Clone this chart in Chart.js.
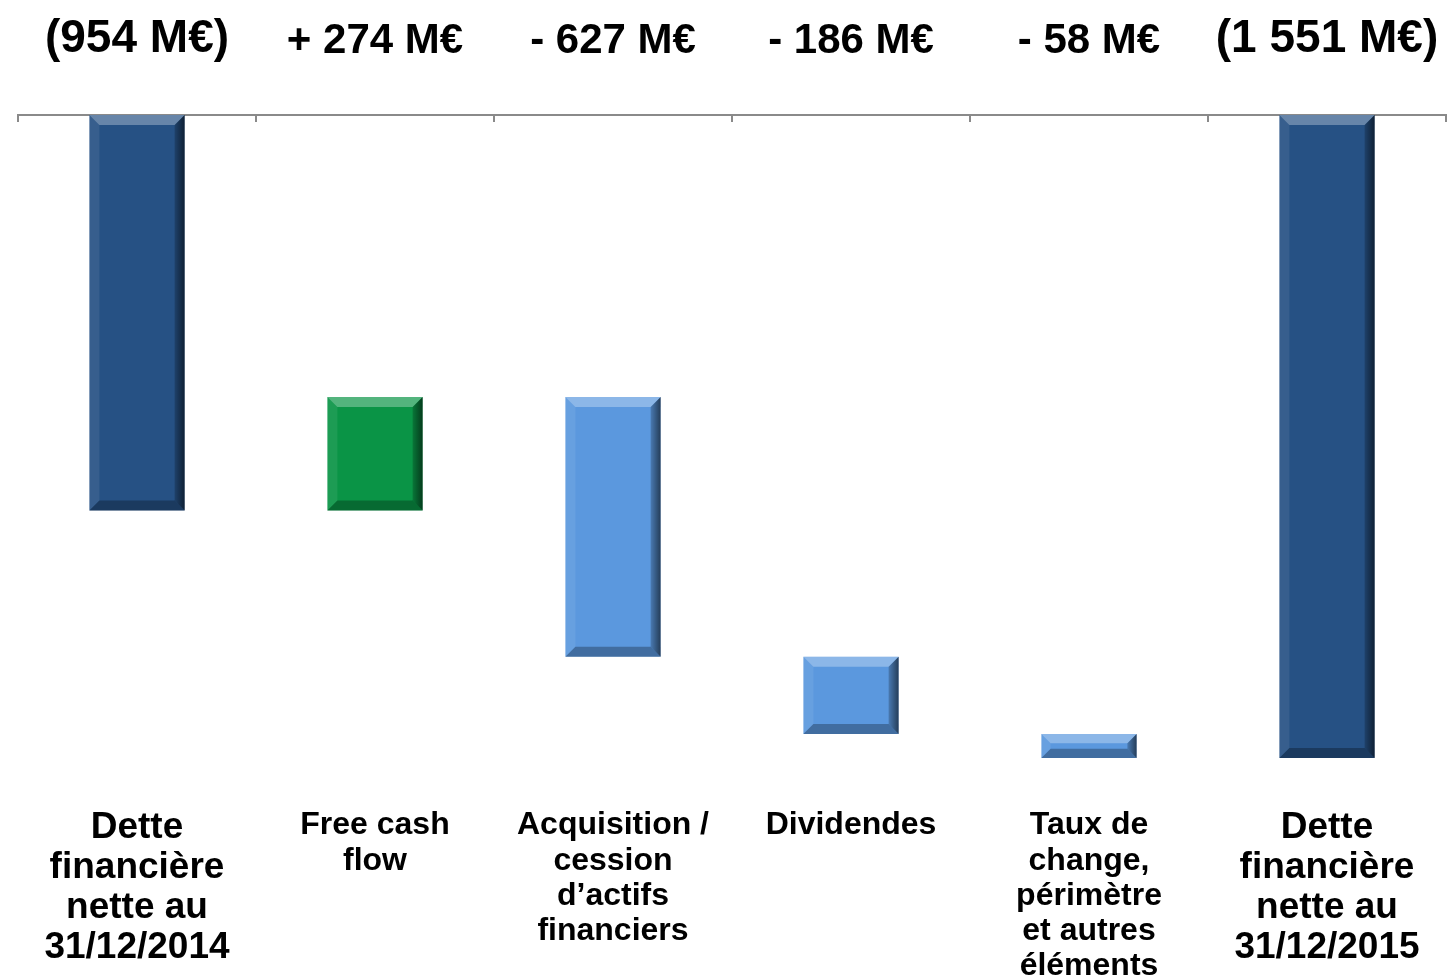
<!DOCTYPE html>
<html>
<head>
<meta charset="utf-8">
<script src="https://cdn.jsdelivr.net/npm/chart.js@4"></script>
<style>
  html, body { margin: 0; padding: 0; background: #fff; }
  #wrap { width: 1450px; height: 980px; position: relative; }
</style>
</head>
<body>
<div id="wrap"><canvas id="myChart"></canvas></div>
<script>
// categories (x axis under the bars)
var categories = [
	['Dette', 'financière', 'nette au', '31/12/2014'],
	['Free cash', 'flow'],
	['Acquisition /', 'cession', 'd’actifs', 'financiers'],
	['Dividendes'],
	['Taux de', 'change,', 'périmètre', 'et autres', 'éléments'],
	['Dette', 'financière', 'nette au', '31/12/2015']
];
// amounts in M€ (debt is negative)
var amounts = [-954, 274, -627, -186, -58, -1551];
var isTotal = [true, false, false, false, false, true];
// labels written above the axis
var amountLabels = ['(954 M€)', '+ 274 M€', '- 627 M€', '- 186 M€', '- 58 M€', '(1 551 M€)'];
var barColors = ['#265184', '#0a9446', '#5b98de', '#5b98de', '#5b98de', '#265184'];

// waterfall: totals from 0, steps from the running total
var ranges = [];
var run = 0;
for (var i = 0; i < amounts.length; i++) {
	if (isTotal[i]) {
		ranges.push([0, amounts[i]]);
		run = amounts[i];
	} else {
		ranges.push([run, run + amounts[i]]);
		run = run + amounts[i];
	}
}

var FONT = '"Liberation Sans", Arial, sans-serif';

// bevel look on each bar, from the bar elements themselves
var bevelPlugin = {
	id: 'bevel',
	afterDatasetsDraw: function(chart) {
		var ctx = chart.ctx;
		chart.getDatasetMeta(0).data.forEach(function(bar) {
			var l = bar.x - bar.width / 2, r = bar.x + bar.width / 2;
			var t = Math.min(bar.y, bar.base), bt = Math.max(bar.y, bar.base);
			var b = Math.min(10, (bt - t) / 2.6, bar.width / 4);
			function poly(pts, col) {
				ctx.beginPath();
				ctx.moveTo(pts[0][0], pts[0][1]);
				for (var k = 1; k < pts.length; k++) ctx.lineTo(pts[k][0], pts[k][1]);
				ctx.closePath();
				ctx.fillStyle = col;
				ctx.fill();
			}
			ctx.save();
			poly([[l, t], [r, t], [r - b, t + b], [l + b, t + b]], 'rgba(255,255,255,0.30)');
			poly([[l, t], [l + b, t + b], [l + b, bt - b], [l, bt]], 'rgba(255,255,255,0.08)');
			var g = ctx.createLinearGradient(r - b, 0, r, 0);
			g.addColorStop(0, 'rgba(0,0,0,0.20)');
			g.addColorStop(1, 'rgba(0,0,0,0.60)');
			poly([[r, t], [r, bt], [r - b, bt - b], [r - b, t + b]], g);
			poly([[l, bt], [r, bt], [r - b, bt - b], [l + b, bt - b]], 'rgba(0,0,0,0.28)');
			ctx.restore();
		});
	}
};

var ctx = document.getElementById('myChart').getContext('2d');
var myChart = new Chart(ctx, {
	type: 'bar',
	data: {
		labels: categories,
		datasets: [{
			data: ranges,
			backgroundColor: barColors,
			borderWidth: 0,
			categoryPercentage: 1.0,
			barPercentage: 0.4,
			xAxisID: 'x'
		}]
	},
	options: {
		responsive: true,
		maintainAspectRatio: false,
		animation: false,
		layout: { padding: { left: 18, right: 4, top: 0, bottom: 0 } },
		plugins: {
			legend: { display: false },
			tooltip: { enabled: false }
		},
		scales: {
			y: {
				display: false,
				min: -1551,
				max: 0
			},
			x: {
				position: 'bottom',
				offset: true,
				grid: { display: false },
				border: { display: false },
				afterFit: function(s) {
					s.height = 222;
					s.paddingLeft = 0;
					s.paddingRight = 0;
				},
				ticks: {
					color: '#000',
					padding: 42,
					maxRotation: 0,
					autoSkip: false,
					font: function(c) {
						var big = c.index === 0 || c.index === 5;
						return big ? { family: FONT, weight: 'bold', size: 37, lineHeight: 1.08 }
							: { family: FONT, weight: 'bold', size: 32, lineHeight: 1.1 };
					}
				}
			},
			xTop: {
				type: 'category',
				position: 'top',
				labels: amountLabels,
				offset: true,
				grid: {
					offset: true,
					drawOnChartArea: false,
					drawTicks: true,
					tickLength: -7,
					color: '#8a8a8a',
					lineWidth: 2
				},
				border: { display: true, color: '#8a8a8a', width: 2 },
				afterFit: function(s) {
					s.height = 115;
					s.paddingLeft = 0;
					s.paddingRight = 0;
				},
				ticks: {
					color: '#000',
					padding: 55,
					maxRotation: 0,
					autoSkip: false,
					font: function(c) {
						var big = c.index === 0 || c.index === 5;
						return { family: FONT, weight: 'bold', size: big ? 46 : 42, lineHeight: 1.2 };
					}
				}
			}
		}
	},
	plugins: [bevelPlugin]
});
</script>
</body>
</html>
